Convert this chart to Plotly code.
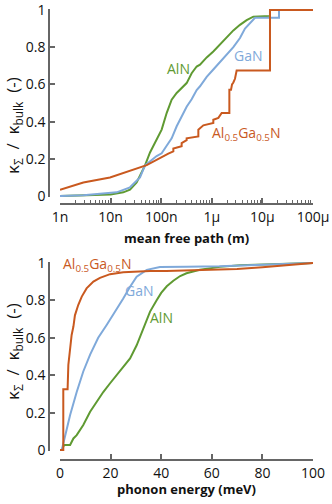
import numpy as np
import plotly.graph_objects as go

# ---------------- data: top panel (mean free path, log10 m) ----------------
aln_mfp_log = [-9.0, -8.5, -8.0, -7.75, -7.617, -7.485, -7.386, -7.320, -7.221, -7.090, -6.991,
               -6.892, -6.793, -6.694, -6.596, -6.497, -6.398, -6.299, -6.233, -6.101, -5.970,
               -5.838, -5.706, -5.574, -5.443, -5.311, -5.179, -4.850, -4.850, -4.0]
aln_mfp_val = [0.0, 0.002, 0.008, 0.02, 0.034, 0.073, 0.127, 0.165, 0.234, 0.30, 0.357,
               0.446, 0.518, 0.554, 0.58, 0.607, 0.66, 0.696, 0.706, 0.745, 0.777,
               0.815, 0.857, 0.89, 0.92, 0.945, 0.964, 0.968, 1.0, 1.0]

gan_mfp_log = [-9.0, -8.539, -7.880, -7.617, -7.419, -7.320, -7.090, -6.991, -6.892, -6.793,
               -6.694, -6.596, -6.497, -6.398, -6.299, -6.233, -6.101, -5.970, -5.838, -5.706,
               -5.574, -5.443, -5.344, -5.146, -4.672, -4.672, -4.0]
gan_mfp_val = [0.0, 0.005, 0.02, 0.047, 0.10, 0.165, 0.215, 0.23, 0.27, 0.31,
               0.375, 0.43, 0.48, 0.52, 0.57, 0.59, 0.64, 0.68, 0.72, 0.76,
               0.80, 0.849, 0.90, 0.958, 0.958, 1.0, 1.0]

algan_mfp_log = [-9.0, -8.539, -8.012, -7.617, -7.287, -6.859, -6.760, -6.760, -6.596, -6.596,
                 -6.497, -6.497, -6.266, -6.266, -6.200, -6.167, -5.970, -5.970, -5.870, -5.805,
                 -5.653, -5.653, -5.620, -5.600, -5.574, -5.542, -5.509, -4.850, -4.850, -4.0]
algan_mfp_val = [0.034, 0.073, 0.10, 0.135, 0.166, 0.228, 0.24, 0.255, 0.268, 0.285,
                 0.30, 0.31, 0.32, 0.357, 0.37, 0.38, 0.393, 0.41, 0.42, 0.446,
                 0.446, 0.571, 0.571, 0.60, 0.61, 0.63, 0.675, 0.675, 1.0, 1.0]

# ---------------- data: bottom panel (phonon energy, meV) ----------------
algan_e = [0.0, 1.3, 1.3, 3.0, 3.3, 4.0, 4.6, 5.3, 5.9, 7.2, 8.6, 10.5, 13.2, 15.8, 19.8,
           25.0, 35.6, 42.0, 50.0, 60.0, 70.0, 80.0, 90.0, 100.0]
algan_e_val = [0.0, 0.0, 0.325, 0.325, 0.455, 0.56, 0.615, 0.66, 0.72, 0.775, 0.82, 0.864,
               0.90, 0.92, 0.94, 0.95, 0.957, 0.957, 0.96, 0.965, 0.968, 0.977, 0.99, 1.0]

gan_e = [0.7, 2.0, 4.0, 6.6, 9.2, 11.9, 15.1, 18.5, 22.4, 25.0, 27.7, 30.3, 34.3, 39.5,
         50.0, 63.0, 80.0, 100.0]
gan_e_val = [0.0, 0.08, 0.187, 0.31, 0.42, 0.51, 0.60, 0.67, 0.75, 0.81, 0.873, 0.927,
             0.963, 0.978, 0.98, 0.982, 0.99, 1.0]

aln_e = [0.7, 1.6, 4.0, 5.3, 6.6, 9.2, 11.9, 14.5, 17.1, 19.8, 22.4, 25.0, 27.7, 30.3,
         32.9, 35.6, 38.2, 40.0, 42.2, 44.8, 47.5, 50.0, 55.3, 63.2, 71.0, 81.7, 100.0]
aln_e_val = [0.0, 0.027, 0.027, 0.062, 0.08, 0.134, 0.205, 0.26, 0.31, 0.357, 0.40, 0.445,
             0.49, 0.56, 0.65, 0.74, 0.80, 0.84, 0.875, 0.905, 0.93, 0.945, 0.964, 0.979,
             0.988, 0.993, 1.0]

mfp_tickvals = [1e-9, 1e-8, 1e-7, 1e-6, 1e-5, 1e-4]
mfp_ticktext = ["1n", "10n", "100n", "1μ", "10μ", "100μ"]
energy_tickvals = [0, 20, 40, 60, 80, 100]
y_tickvals = [0, 0.2, 0.4, 0.6, 0.8, 1.0]
y_ticktext = ["0", "0.2", "0.4", "0.6", "0.8", "1"]

GREEN = "#5f9a32"
BLUE = "#7fa9da"
ORANGE = "#c9591f"
AXC = "#666666"
FONT = "Open Sans"

W, H = 332, 504
def px(x):
    return x / W
def py(y):
    return 1 - y / H

fig = go.Figure()
lw = 2
fig.add_trace(go.Scatter(x=[10 ** v for v in aln_mfp_log], y=aln_mfp_val, mode="lines",
                         line=dict(color=GREEN, width=lw), xaxis="x", yaxis="y"))
fig.add_trace(go.Scatter(x=[10 ** v for v in gan_mfp_log], y=gan_mfp_val, mode="lines",
                         line=dict(color=BLUE, width=lw), xaxis="x", yaxis="y"))
fig.add_trace(go.Scatter(x=[10 ** v for v in algan_mfp_log], y=algan_mfp_val, mode="lines",
                         line=dict(color=ORANGE, width=lw), xaxis="x", yaxis="y"))

fig.add_trace(go.Scatter(x=aln_e, y=aln_e_val, mode="lines",
                         line=dict(color=GREEN, width=lw), xaxis="x2", yaxis="y2"))
fig.add_trace(go.Scatter(x=gan_e, y=gan_e_val, mode="lines",
                         line=dict(color=BLUE, width=lw), xaxis="x2", yaxis="y2"))
fig.add_trace(go.Scatter(x=algan_e, y=algan_e_val, mode="lines",
                         line=dict(color=ORANGE, width=lw), xaxis="x2", yaxis="y2"))

xdom = [px(60), px(313)]
minor_vals = [m * 10 ** e for e in range(-9, -4) for m in range(2, 10)]
common_ax = dict(showgrid=False, zeroline=False, showline=True, linecolor=AXC, linewidth=1.5,
                 ticks="inside", ticklen=5, tickwidth=1.5, tickcolor=AXC, automargin=False,
                 ticklabeloverflow="allow",
                 tickfont=dict(family=FONT, size=14, color="#111"))

fig.update_layout(
    template="none",
    width=W, height=H, margin=dict(l=0, r=0, t=0, b=0, pad=0), autosize=False,
    paper_bgcolor="white", plot_bgcolor="white", showlegend=False,
    font=dict(family=FONT, color="#111", size=14),
    xaxis=dict(type="log", range=[-9, -4], domain=xdom, anchor="free", position=py(204),
               tickmode="array", tickvals=mfp_tickvals, ticktext=mfp_ticktext,
               minor=dict(tickmode="array", tickvals=minor_vals, ticks="inside", ticklen=3,
                          tickwidth=1, tickcolor=AXC, showgrid=False),
               **common_ax),
    yaxis=dict(range=[-0.005, 1.005], domain=[py(197), py(9)], anchor="free", position=px(49),
               tickmode="array", tickvals=y_tickvals, ticktext=y_ticktext, **common_ax),
    xaxis2=dict(range=[0, 100], domain=xdom, anchor="free", position=py(460),
                tickmode="array", tickvals=energy_tickvals, **common_ax),
    yaxis2=dict(range=[-0.005, 1.005], domain=[py(451), py(262)], anchor="free", position=px(49),
                tickmode="array", tickvals=y_tickvals, ticktext=y_ticktext, **common_ax),
)

ytitle = "κ<sub>Σ</sub>&nbsp; /&nbsp; κ<sub>bulk</sub>&nbsp; (-)"
ann = [
    dict(x=px(13), y=py(126), text=ytitle, textangle=-90, font=dict(size=17)),
    dict(x=px(13), y=py(352), text=ytitle, textangle=-90, font=dict(size=17)),
    dict(x=px(186), y=py(238), text="<b>mean free path (m)</b>", font=dict(size=13)),
    dict(x=px(186), y=py(489), text="<b>phonon energy (meV)</b>", font=dict(size=13)),
    dict(x=px(178), y=py(69), text="AlN", font=dict(size=14, color=GREEN)),
    dict(x=px(248), y=py(55), text="GaN", font=dict(size=14, color=BLUE)),
    dict(x=px(246), y=py(134), text="Al<sub>0.5</sub>Ga<sub>0.5</sub>N", font=dict(size=14, color=ORANGE)),
    dict(x=px(97), y=py(264), text="Al<sub>0.5</sub>Ga<sub>0.5</sub>N", font=dict(size=14, color=ORANGE)),
    dict(x=px(139), y=py(290), text="GaN", font=dict(size=14, color=BLUE)),
    dict(x=px(161), y=py(317), text="AlN", font=dict(size=14, color=GREEN)),
]
for a in ann:
    a.update(xref="paper", yref="paper", showarrow=False, xanchor="center", yanchor="middle")
    a["font"].setdefault("family", FONT)
    a["font"].setdefault("color", "#111")
fig.update_layout(annotations=ann)

fig.write_html("out.html", config={"displayModeBar": False},
               post_script="document.body.style.margin='0px';document.body.style.overflow='hidden';")
